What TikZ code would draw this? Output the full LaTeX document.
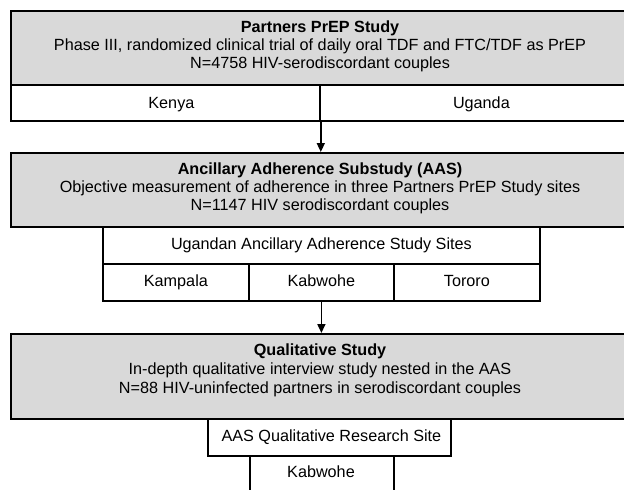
\documentclass[tikz,border=0pt]{standalone}
\usepackage{fontspec}
\setmainfont{Liberation Sans}
\usetikzlibrary{arrows.meta}
\definecolor{boxgray}{HTML}{D9D9D9}
\tikzset{
  graybox/.style={draw=black, line width=1.8pt, fill=boxgray, inner sep=0pt, anchor=north west},
  cell/.style={draw=black, line width=1.8pt, fill=white, inner sep=0pt, anchor=north west},
  txt/.style={font=\fontsize{16.2}{19}\selectfont, inner sep=0pt, align=center, text height=11.6pt, text depth=3.4pt},
  ttl/.style={txt, font=\fontsize{16.2}{19}\selectfont\bfseries},
  arr/.style={line width=1.6pt, -{Triangle[width=8pt,length=9pt]}}
}
\begin{document}
\begin{tikzpicture}[x=1pt,y=-1pt]
\useasboundingbox (0,0) rectangle (624,490);
\clip (0,0) rectangle (624,490);
\fill[white] (0,0) rectangle (624,490);
% Box 1
\node[graybox, minimum width=620pt, minimum height=74pt] (b1) at (10,10) {};
\node[cell, minimum width=309pt, minimum height=36pt] (kenya) at (10,84) {};
\node[cell, minimum width=311pt, minimum height=36pt] (uganda) at (319,84) {};
\node[ttl] (t1) at (320,28) {Partners PrEP Study};
\node[txt] (t1b) at (320,46) {Phase III, randomized clinical trial of daily oral TDF and FTC/TDF as PrEP};
\node[txt] (t1c) at (320,64) {N=4758 HIV-serodiscordant couples};
\node[txt] (lk) at ([xshift=6pt,yshift=-1pt]kenya.center) {Kenya};
\node[txt] (lu) at ([xshift=6pt,yshift=-1pt]uganda.center) {Uganda};
% Box 2
\node[graybox, minimum width=620pt, minimum height=74pt] (b2) at (10,152) {};
\node[ttl] (t2) at (320,170) {Ancillary Adherence Substudy (AAS)};
\node[txt] (t2b) at (320,188) {Objective measurement of adherence in three Partners PrEP Study sites};
\node[txt] (t2c) at (320,206) {N=1147 HIV serodiscordant couples};
\node[cell, minimum width=437pt, minimum height=37pt] (sites) at (102,226) {};
\node[txt] (ls) at (sites.center) {Ugandan Ancillary Adherence Study Sites};
\node[cell, minimum width=146pt, minimum height=37pt] (kamp) at (102,263) {};
\node[cell, minimum width=145pt, minimum height=37pt] (kabw) at (248,263) {};
\node[cell, minimum width=146pt, minimum height=37pt] (toro) at (393,263) {};
\node[txt] (lka) at (kamp.center) {Kampala};
\node[txt] (lkb) at (kabw.center) {Kabwohe};
\node[txt] (lto) at (toro.center) {Tororo};
% Box 3
\node[graybox, minimum width=620pt, minimum height=85pt] (b3) at (10,333) {};
\node[ttl] (t3) at (320,351) {Qualitative Study};
\node[txt] (t3b) at (320,370) {In-depth qualitative interview study nested in the AAS};
\node[txt] (t3c) at (320,389) {N=88 HIV-uninfected partners in serodiscordant couples};
\node[cell, minimum width=243pt, minimum height=37pt] (qsite) at (207,418) {};
\node[txt] (lq) at ([xshift=2pt]qsite.center) {AAS Qualitative Research Site};
\node[cell, minimum width=144pt, minimum height=45pt] (qkab) at (249,455) {};
\node[txt] (lqk) at (321,473) {Kabwohe};
% Arrows
\draw[arr] (kenya.south east) -- (kenya.south east |- b2.north);
\draw[arr] (kabw.south) -- (kabw.south |- b3.north);
\end{tikzpicture}
\end{document}
